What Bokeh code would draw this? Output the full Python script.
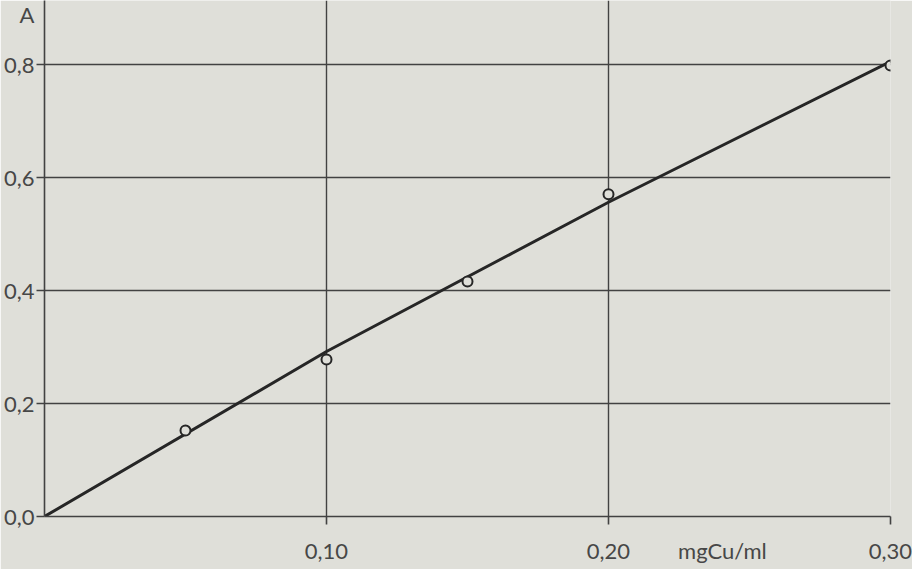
from bokeh.plotting import figure
from bokeh.models import FixedTicker, Range1d, LinearAxis
from bokeh.embed import file_html
from bokeh.resources import INLINE

# data
conc = [0.05, 0.10, 0.15, 0.20, 0.30]          # mg Cu / ml
absorb = [0.152, 0.278, 0.416, 0.570, 0.798]   # A
# hand-drawn calibration line, read at a few x positions
fit_x = [0.0, 0.10, 0.20, 0.30]
fit_y = [0.0, 0.292, 0.556, 0.805]
x_ticks = [0.10, 0.20, 0.30]
x_tick_labels = {0.10: "0,10", 0.20: "0,20", 0.30: "0,30"}
x_title = "mgCu/ml"
x_title_pos = 0.2404
y_ticks = [0.0, 0.2, 0.4, 0.6, 0.8]
y_tick_labels = {0.0: "0,0", 0.2: "0,2", 0.4: "0,4", 0.6: "0,6", 0.8: "0,8"}
y_title = "A"
y_title_pos = 0.892

BG = "#dfdfd9"
INK = "#262626"
GRID = "#424242"
TXT = "#474747"
FONT = "Lato"
FS = "22px"

p = figure(width=912, height=569, output_backend="svg", toolbar_location=None,
           x_range=Range1d(0, 0.30), y_range=Range1d(0, 0.913),
           min_border_left=44, min_border_right=22, min_border_top=0, min_border_bottom=53)
p.background_fill_color = BG
p.border_fill_color = BG
p.outline_line_color = None

# inner axes: axis lines + tick marks only (labels blank)
for ax, ticks in ((p.xaxis[0], x_ticks), (p.yaxis[0], y_ticks)):
    ax.ticker = FixedTicker(ticks=ticks)
    ax.major_label_overrides = {t: "" for t in ticks}
    ax.axis_line_color = GRID
    ax.axis_line_width = 1.6
    ax.major_tick_line_color = GRID
    ax.major_tick_line_width = 1.6
    ax.major_tick_in = 0
    ax.major_tick_out = 8
    ax.minor_tick_line_color = None
    ax.major_label_text_font = FONT
    ax.major_label_text_font_size = FS
    ax.major_label_standoff = 0

# outer axes: labels only (tick values and axis names)
xlab = LinearAxis(ticker=FixedTicker(ticks=x_ticks + [x_title_pos]),
                  major_label_overrides={**x_tick_labels, x_title_pos: x_title})
ylab = LinearAxis(ticker=FixedTicker(ticks=y_ticks + [y_title_pos]),
                  major_label_overrides={**y_tick_labels, y_title_pos: y_title})
for ax in (xlab, ylab):
    ax.axis_line_color = None
    ax.major_tick_line_color = None
    ax.minor_tick_line_color = None
    ax.major_tick_in = 0
    ax.major_tick_out = 0
    ax.major_label_text_font = FONT
    ax.major_label_text_font_size = FS
    ax.major_label_text_color = TXT
xlab.major_label_standoff = 12
ylab.major_label_standoff = 2
p.add_layout(xlab, "below")
p.add_layout(ylab, "left")

p.xgrid.ticker = FixedTicker(ticks=x_ticks)
p.ygrid.ticker = FixedTicker(ticks=y_ticks[1:])
for g in (p.xgrid[0], p.ygrid[0]):
    g.grid_line_color = GRID
    g.grid_line_width = 1.4
    g.grid_line_alpha = 1.0

p.line(fit_x, fit_y, line_color=INK, line_width=3.0, line_join="round")
p.scatter(conc, absorb, marker="circle", size=10, fill_color=BG,
          line_color=INK, line_width=2.0)

open("out.html", "w").write(file_html(p, INLINE))
